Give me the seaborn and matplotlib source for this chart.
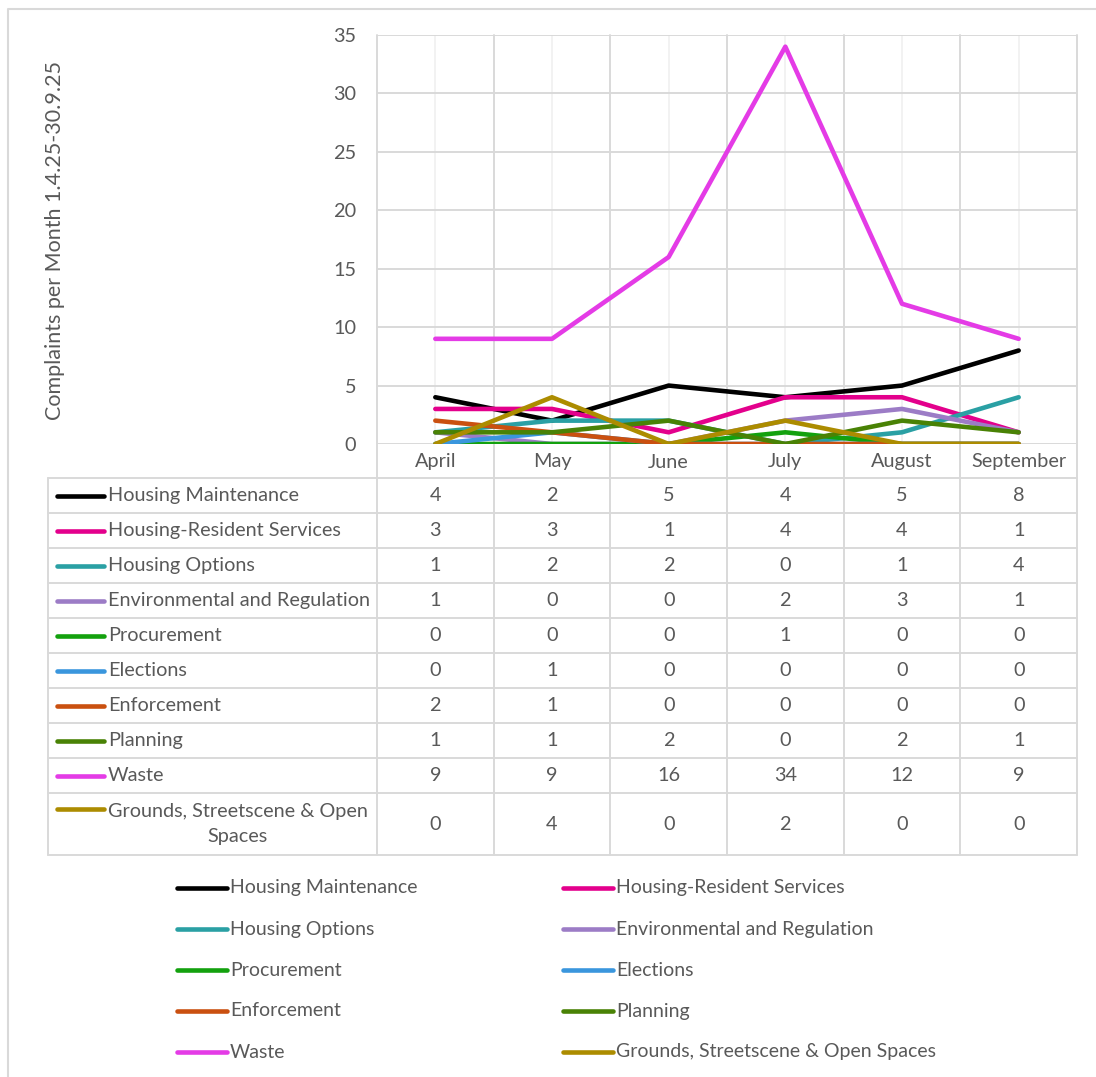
import matplotlib
matplotlib.use("Agg")
import matplotlib.pyplot as plt
import seaborn as sns
import pandas as pd
from matplotlib.transforms import blended_transform_factory

months = ["April", "May", "June", "July", "August", "September"]
series_names = [
    "Housing Maintenance",
    "Housing-Resident Services",
    "Housing Options",
    "Environmental and Regulation",
    "Procurement",
    "Elections",
    "Enforcement",
    "Planning",
    "Waste",
    "Grounds, Streetscene & Open Spaces",
]
housing_maintenance = [4, 2, 5, 4, 5, 8]
housing_resident = [3, 3, 1, 4, 4, 1]
housing_options = [1, 2, 2, 0, 1, 4]
environmental = [1, 0, 0, 2, 3, 1]
procurement = [0, 0, 0, 1, 0, 0]
elections = [0, 1, 0, 0, 0, 0]
enforcement = [2, 1, 0, 0, 0, 0]
planning = [1, 1, 2, 0, 2, 1]
waste = [9, 9, 16, 34, 12, 9]
grounds = [0, 4, 0, 2, 0, 0]
colors = ["#000000", "#E3008C", "#2AA0A4", "#9C7CC6", "#13A10E",
          "#3A96DD", "#CA5010", "#498205", "#E43BE6", "#AC8C00"]
y_ticks = [0, 5, 10, 15, 20, 25, 30, 35]
y_label = "Complaints per Month 1.4.25-30.9.25"

values = [housing_maintenance, housing_resident, housing_options, environmental,
          procurement, elections, enforcement, planning, waste, grounds]

rows = []
for name, vals in zip(series_names, values):
    for i, v in enumerate(vals):
        rows.append({"series": name, "idx": i, "value": v})
df = pd.DataFrame(rows)

sns.set_theme(style="white")
plt.rcParams["font.family"] = ["Lato", "DejaVu Sans"]
TXT = "#595959"
GRID = "#D9D9D9"
FS = 14.3
LW = 3.3

W, H = 1096, 1077
fig = plt.figure(figsize=(W / 100, H / 100), dpi=100)

bg = fig.add_axes([0, 0, 1, 1])
bg.set_xlim(0, W)
bg.set_ylim(H, 0)
bg.axis("off")

pl, pr, pt, pb = 377, 1077, 35, 444
ax = fig.add_axes([pl / W, 1 - pb / H, (pr - pl) / W, (pb - pt) / H])
ax.set_facecolor("none")

for i in range(len(months)):
    ax.axvline(i, color="#EFEFEF", lw=1.1, zorder=0)
for t in y_ticks:
    ax.axhline(t, color=GRID, lw=1.4, zorder=0.5)

palette = dict(zip(series_names, colors))
sns.lineplot(data=df, x="idx", y="value", hue="series", hue_order=series_names,
             palette=palette, linewidth=LW, legend=False, ax=ax, sort=False,
             zorder=3)
for ln in ax.get_lines():
    if ln.get_linewidth() >= LW - 0.1:
        ln.set_solid_joinstyle("round")
        ln.set_solid_capstyle("round")

ax.set_xlim(-0.5, len(months) - 0.5)
ax.set_ylim(0, 35)
ax.set_yticks(y_ticks)
ax.set_yticklabels([str(t) for t in y_ticks], fontsize=FS, color=TXT)
ax.tick_params(axis="y", length=0, pad=15)
ax.set_xticks([])
ax.set_xlabel("")
ax.set_ylabel("")
for s in ax.spines.values():
    s.set_visible(False)

trans = blended_transform_factory(ax.transData, bg.transData)

table_bottom = 855
for i in range(len(months) + 1):
    bg.plot([i - 0.5, i - 0.5], [pt, table_bottom], color=GRID, lw=1.4,
            transform=trans, zorder=1, clip_on=False)

for i, m in enumerate(months):
    bg.text(i, 462, m, transform=trans, ha="center", va="center",
            fontsize=FS, color=TXT)

row_bounds = [478, 513, 548, 583, 618, 653, 688, 723, 758, 793, 855]
tl = 48
for yb in row_bounds:
    bg.plot([tl, pr], [yb, yb], color=GRID, lw=1.4, zorder=1)
bg.plot([tl, tl], [row_bounds[0], row_bounds[-1]], color=GRID, lw=1.4, zorder=1)

for r, (name, vals, c) in enumerate(zip(series_names, values, colors)):
    y0, y1 = row_bounds[r], row_bounds[r + 1]
    yc = (y0 + y1) / 2
    line_y = yc if r < len(series_names) - 1 else y0 + 16
    bg.plot([57, 104], [line_y, line_y], color=c, lw=LW, solid_capstyle="round")
    if r < len(series_names) - 1:
        bg.text(108, yc, name, ha="left", va="center", fontsize=FS, color=TXT)
    else:
        bg.text(108, yc, "Grounds, Streetscene & Open\nSpaces", ha="left",
                va="center", fontsize=FS, color=TXT, multialignment="center",
                linespacing=1.6)
    for i, v in enumerate(vals):
        bg.text(i, yc, str(v), transform=trans, ha="center", va="center",
                fontsize=FS, color=TXT)

bg.text(55, 240, y_label, rotation=90, ha="center", va="center",
        fontsize=15.5, color=TXT)

leg_rows = [888, 929, 970, 1011, 1052]
for k, (name, c) in enumerate(zip(series_names, colors)):
    col = k % 2
    ry = leg_rows[k // 2]
    x0 = 177 if col == 0 else 563
    bg.plot([x0, x0 + 50], [ry, ry], color=c, lw=LW, solid_capstyle="round")
    bg.text(x0 + 53, ry, name, ha="left", va="center", fontsize=14, color=TXT)

bg.plot([8, 8, 1100], [1080, 9, 9], color=GRID, lw=1.5, clip_on=False)

fig.savefig("out.png", dpi=100, facecolor="white")
